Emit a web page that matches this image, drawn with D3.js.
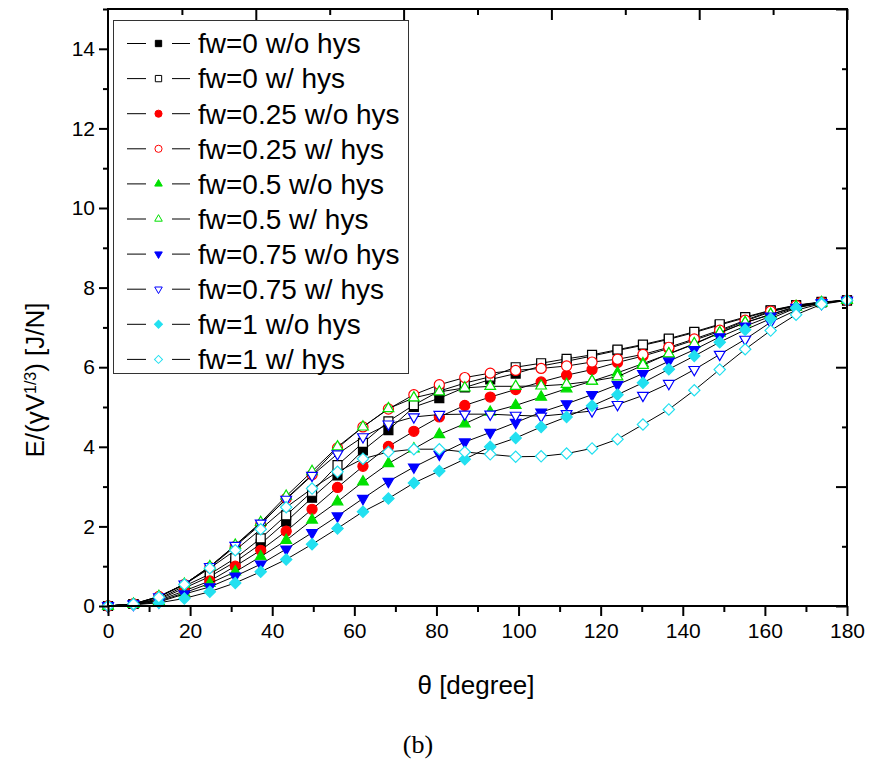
<!DOCTYPE html>
<html>
<head>
<meta charset="utf-8">
<script src="https://cdn.jsdelivr.net/npm/d3@7"></script>
<style>
  body { margin: 0; background: #fff; }
  text { font-family: "Liberation Sans", Arial, sans-serif; }
</style>
</head>
<body>
<div id="chart"></div>
<script>
const width = 871;
const height = 761;

// theta positions of the points (degrees)
const theta = [0, 6.2, 12.4, 18.6, 24.8, 31.0, 37.2, 43.4, 49.7, 55.9,
  62.1, 68.3, 74.5, 80.7, 86.9, 93.1, 99.3, 105.5, 111.7, 117.9,
  124.1, 130.3, 136.6, 142.8, 149.0, 155.2, 161.4, 167.6, 173.8, 180];

const fw0_wo = [0, 0.05, 0.16, 0.45, 0.74, 1.11, 1.56, 2.12, 2.72, 3.28,
  3.91, 4.42, 5.0, 5.22, 5.49, 5.69, 5.84, 6.03, 6.15, 6.28,
  6.42, 6.55, 6.7, 6.87, 7.06, 7.24, 7.42, 7.55, 7.63, 7.68];
const fw0_w = [0, 0.05, 0.18, 0.5, 0.8, 1.2, 1.7, 2.28, 2.87, 3.54,
  4.1, 4.64, 5.05, 5.4, 5.6, 5.76, 6.0, 6.1, 6.21, 6.31,
  6.44, 6.57, 6.72, 6.89, 7.08, 7.26, 7.43, 7.56, 7.64, 7.68];
const fw025_wo = [0, 0.05, 0.14, 0.38, 0.63, 1.0, 1.4, 1.88, 2.43, 2.98,
  3.51, 4.01, 4.39, 4.75, 5.04, 5.25, 5.44, 5.63, 5.8, 5.94,
  6.12, 6.28, 6.47, 6.68, 6.9, 7.16, 7.39, 7.54, 7.63, 7.68];
const fw025_w = [0, 0.05, 0.24, 0.54, 0.97, 1.5, 2.05, 2.7, 3.3, 3.97,
  4.5, 4.95, 5.31, 5.56, 5.74, 5.85, 5.92, 5.97, 6.03, 6.13,
  6.2, 6.32, 6.5, 6.71, 6.93, 7.18, 7.41, 7.55, 7.63, 7.68];
const fw05_wo = [0, 0.04, 0.12, 0.33, 0.57, 0.86, 1.24, 1.65, 2.16, 2.62,
  3.12, 3.58, 3.95, 4.31, 4.58, 4.87, 5.04, 5.25, 5.46, 5.65,
  5.86, 6.09, 6.33, 6.58, 6.86, 7.12, 7.32, 7.52, 7.62, 7.68];
const fw05_w = [0, 0.05, 0.24, 0.55, 0.99, 1.53, 2.1, 2.76, 3.38, 4.0,
  4.5, 4.96, 5.23, 5.38, 5.48, 5.52, 5.52, 5.53, 5.57, 5.65,
  5.76, 6.05, 6.34, 6.59, 6.87, 7.12, 7.33, 7.52, 7.62, 7.68];
const fw075_wo = [0, 0.04, 0.1, 0.3, 0.48, 0.75, 1.05, 1.43, 1.84, 2.26,
  2.7, 3.13, 3.49, 3.81, 4.12, 4.36, 4.61, 4.87, 5.08, 5.31,
  5.56, 5.84, 6.15, 6.44, 6.76, 7.03, 7.28, 7.5, 7.62, 7.68];
const fw075_w = [0, 0.05, 0.23, 0.55, 0.99, 1.52, 2.08, 2.68, 3.28, 3.82,
  4.25, 4.57, 4.75, 4.81, 4.82, 4.82, 4.79, 4.77, 4.83, 4.9,
  5.06, 5.29, 5.59, 5.94, 6.32, 6.7, 7.13, 7.43, 7.6, 7.68];
const fw1_wo = [0, 0.03, 0.08, 0.19, 0.36, 0.58, 0.86, 1.17, 1.55, 1.95,
  2.37, 2.7, 3.09, 3.39, 3.69, 4.0, 4.22, 4.5, 4.75, 5.03,
  5.31, 5.61, 5.95, 6.28, 6.63, 6.94, 7.22, 7.49, 7.61, 7.68];
const fw1_w = [0, 0.05, 0.22, 0.54, 0.95, 1.4, 1.93, 2.48, 2.95, 3.37,
  3.7, 3.87, 3.94, 3.94, 3.87, 3.81, 3.75, 3.76, 3.83, 3.96,
  4.19, 4.56, 4.94, 5.42, 5.94, 6.45, 6.92, 7.32, 7.58, 7.68];

const labels = ["fw=0 w/o hys", "fw=0 w/ hys", "fw=0.25 w/o hys", "fw=0.25 w/ hys",
  "fw=0.5 w/o hys", "fw=0.5 w/ hys", "fw=0.75 w/o hys", "fw=0.75 w/ hys",
  "fw=1 w/o hys", "fw=1 w/ hys"];

const xTicks = [0, 20, 40, 60, 80, 100, 120, 140, 160, 180];
const xMinor = [10, 30, 50, 70, 90, 110, 130, 150, 170];
const yTicks = [0, 2, 4, 6, 8, 10, 12, 14];
const yMinor = [1, 3, 5, 7, 9, 11, 13, 15];
const topTicks = [36, 72, 108, 144, 180];
const topMinor = [18, 54, 90, 126, 162];
const rightTicks = [0, 3, 6, 9, 12, 15];
const rightMinor = [1.5, 4.5, 7.5, 10.5, 13.5];

const series = [
  { values: fw0_wo, color: "#000000", shape: "square", filled: true },
  { values: fw0_w, color: "#000000", shape: "square", filled: false },
  { values: fw025_wo, color: "#ff0000", shape: "circle", filled: true },
  { values: fw025_w, color: "#ff0000", shape: "circle", filled: false },
  { values: fw05_wo, color: "#00e000", shape: "triangle", filled: true },
  { values: fw05_w, color: "#00e000", shape: "triangle", filled: false },
  { values: fw075_wo, color: "#0000ff", shape: "down", filled: true },
  { values: fw075_w, color: "#0000ff", shape: "down", filled: false },
  { values: fw1_wo, color: "#22e0f0", shape: "diamond", filled: true },
  { values: fw1_w, color: "#22e0f0", shape: "diamond", filled: false }
];
series.forEach((s, i) => s.label = labels[i]);

const plotLeft = 108, plotRight = 847, plotTop = 9, plotBottom = 606;

const svg = d3.select("#chart").append("svg")
  .attr("width", width)
  .attr("height", height);

const x = d3.scaleLinear().domain([0, 180]).range([plotLeft, plotRight]);
const y = d3.scaleLinear().domain([0, 15]).range([plotBottom, plotTop]);

// marker path, size = reference area for squares/circles
function symbolPath(shape, size) {
  if (shape === "square") return d3.symbol(d3.symbolSquare, size)();
  if (shape === "circle") return d3.symbol(d3.symbolCircle, size)();
  if (shape === "triangle" || shape === "down") return d3.symbol(d3.symbolTriangle, size * 0.62)();
  return d3.symbol(d3.symbolSquare, size * 0.8)();
}
function symbolRotate(shape) {
  if (shape === "down") return 180;
  if (shape === "diamond") return 45;
  return 0;
}

// lines + markers, series by series
const line = d3.line().x((d, i) => x(theta[i])).y(d => y(d));
series.forEach(s => {
  const g = svg.append("g");
  g.append("path")
    .attr("d", line(s.values))
    .attr("fill", "none")
    .attr("stroke", "#000")
    .attr("stroke-width", 1);
  g.selectAll("path.m")
    .data(s.values)
    .enter().append("path")
    .attr("class", "m")
    .attr("d", symbolPath(s.shape, 80))
    .attr("transform", (d, i) => `translate(${x(theta[i])},${y(d)}) rotate(${symbolRotate(s.shape)})`)
    .attr("fill", s.filled ? s.color : "#fff")
    .attr("stroke", s.color)
    .attr("stroke-width", 1.2);
});

// axes
function styleAxis(g) {
  g.select(".domain").remove();
  g.selectAll(".tick line").attr("stroke", "#000").attr("stroke-width", 2);
  g.selectAll(".tick text").attr("fill", "#000").style("font-size", "21px")
    .style("font-family", "'Liberation Sans', Arial, sans-serif");
}

svg.append("g").attr("transform", `translate(0,${plotBottom})`)
  .call(d3.axisBottom(x).tickValues(xTicks).tickSize(10).tickPadding(7))
  .call(styleAxis);
svg.append("g").attr("transform", `translate(0,${plotBottom})`)
  .call(d3.axisBottom(x).tickValues(xMinor).tickSize(6).tickFormat(""))
  .call(styleAxis);
svg.append("g").attr("transform", `translate(${plotLeft},0)`)
  .call(d3.axisLeft(y).tickValues(yTicks).tickSize(9).tickPadding(4))
  .call(styleAxis);
svg.append("g").attr("transform", `translate(${plotLeft},0)`)
  .call(d3.axisLeft(y).tickValues(yMinor).tickSize(5).tickFormat(""))
  .call(styleAxis);
svg.append("g").attr("transform", `translate(0,${plotTop})`)
  .call(d3.axisBottom(x).tickValues(topTicks).tickSize(11).tickFormat(""))
  .call(styleAxis);
svg.append("g").attr("transform", `translate(0,${plotTop})`)
  .call(d3.axisBottom(x).tickValues(topMinor).tickSize(6).tickFormat(""))
  .call(styleAxis);
svg.append("g").attr("transform", `translate(${plotRight},0)`)
  .call(d3.axisLeft(y).tickValues(rightTicks).tickSize(11).tickFormat(""))
  .call(styleAxis);
svg.append("g").attr("transform", `translate(${plotRight},0)`)
  .call(d3.axisLeft(y).tickValues(rightMinor).tickSize(5).tickFormat(""))
  .call(styleAxis);

svg.append("rect")
  .attr("x", plotLeft).attr("y", plotTop)
  .attr("width", plotRight - plotLeft).attr("height", plotBottom - plotTop)
  .attr("fill", "none").attr("stroke", "#000").attr("stroke-width", 2);

// axis titles
svg.append("text")
  .attr("x", 476).attr("y", 694)
  .attr("text-anchor", "middle")
  .style("font-size", "26px")
  .text("\u03b8 [degree]");

const yt = svg.append("text")
  .attr("transform", "translate(44,380) rotate(-90)")
  .attr("text-anchor", "middle")
  .style("font-size", "26px");
yt.append("tspan").text("E/(\u03b3V");
yt.append("tspan").attr("baseline-shift", "super").style("font-size", "16px").text("1/3");
yt.append("tspan").text(") [J/N]");

svg.append("text")
  .attr("x", 418).attr("y", 753)
  .attr("text-anchor", "middle")
  .style("font-family", "'Liberation Serif', 'Times New Roman', serif")
  .style("font-size", "26px")
  .text("(b)");

// legend
const legend = svg.append("g");
legend.append("rect")
  .attr("x", 113.5).attr("y", 20.5)
  .attr("width", 295).attr("height", 353)
  .attr("fill", "#fff").attr("stroke", "#333").attr("stroke-width", 1);

series.forEach((s, i) => {
  const cy = 43.5 + i * 35.1;
  const row = legend.append("g");
  row.append("line").attr("x1", 127).attr("x2", 146).attr("y1", cy).attr("y2", cy)
    .attr("stroke", "#000").attr("stroke-width", 1);
  row.append("line").attr("x1", 172).attr("x2", 190).attr("y1", cy).attr("y2", cy)
    .attr("stroke", "#000").attr("stroke-width", 1);
  row.append("path")
    .attr("d", symbolPath(s.shape, 40))
    .attr("transform", `translate(158.5,${cy}) rotate(${symbolRotate(s.shape)})`)
    .attr("fill", s.filled ? s.color : "#fff")
    .attr("stroke", s.color)
    .attr("stroke-width", 1);
  row.append("text")
    .attr("x", 198).attr("y", cy + 9.8)
    .style("font-size", "28px")
    .text(s.label);
});
</script>
</body>
</html>
